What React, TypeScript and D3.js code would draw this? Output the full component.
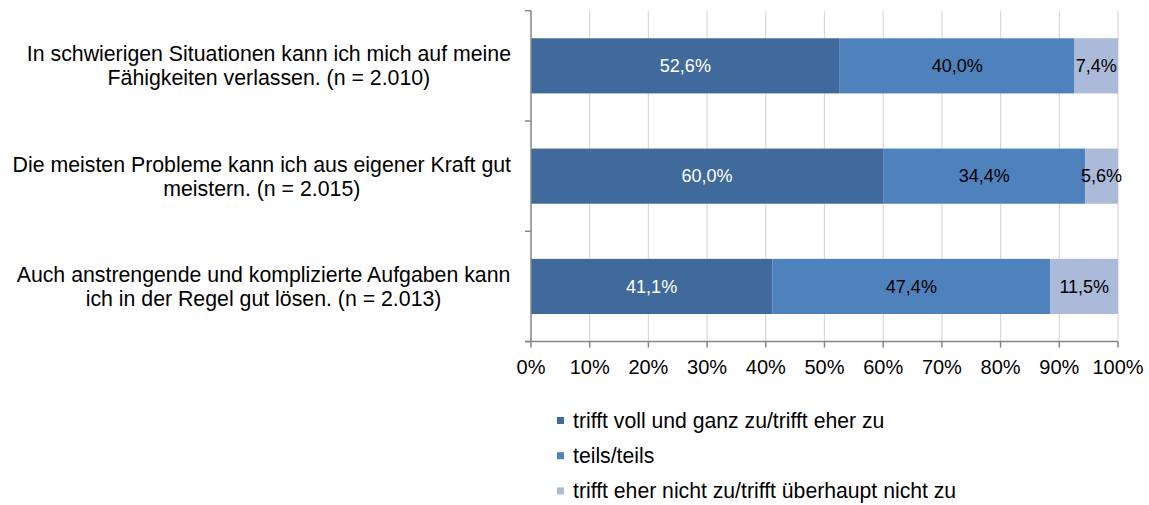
import React, { useMemo } from "react";
import * as d3 from "d3";

const categories: string[][] = [
  ["In schwierigen Situationen kann ich mich auf meine", "Fähigkeiten verlassen. (n = 2.010)"],
  ["Die meisten Probleme kann ich aus eigener Kraft gut", "meistern. (n = 2.015)"],
  ["Auch anstrengende und komplizierte Aufgaben kann", "ich in der Regel gut lösen. (n = 2.013)"],
];
const seriesNames = [
  "trifft voll und ganz zu/trifft eher zu",
  "teils/teils",
  "trifft eher nicht zu/trifft überhaupt nicht zu",
];
const agree = [52.6, 60.0, 41.1];
const partly = [40.0, 34.4, 47.4];
const disagree = [7.4, 5.6, 11.5];
const xTicks = [0, 10, 20, 30, 40, 50, 60, 70, 80, 90, 100];
const colors = ["#416A9C", "#4F81BD", "#AABAD8"];
const labelColors = ["#FFFFFF", "#000000", "#000000"];

const FONT = "'Liberation Sans', Arial, sans-serif";
const W = 1149;
const H = 505;

function measure(text: string, size: number): number {
  if (typeof document === "undefined") return text.length * size * 0.5;
  const c = document.createElement("canvas");
  const ctx = c.getContext("2d");
  if (!ctx) return text.length * size * 0.5;
  ctx.font = `${size}px ${FONT}`;
  return ctx.measureText(text).width;
}

export default function App() {
  const top = 10.7;
  const bottom = 341.6;
  const x = d3.scaleLinear().domain([0, 100]).range([531, 1118]);
  const y = d3
    .scaleBand<number>()
    .domain(categories.map((_, i) => i))
    .range([top, bottom])
    .paddingInner(0.5)
    .paddingOuter(0.25);
  const step = y.step();
  const series = [agree, partly, disagree];
  const stacked = categories.map((_, i) => {
    let acc = 0;
    return series.map((s, k) => {
      const start = acc;
      acc += s[i];
      return { k, start, end: acc, v: s[i] };
    });
  });
  const labelRight = 511;
  const catFont = 21.3;
  const centers = useMemo(
    () =>
      categories.map((lines) => {
        const mw = Math.max(...lines.map((l) => measure(l, catFont)));
        return labelRight - mw / 2;
      }),
    []
  );
  const fmt = (v: number) => v.toFixed(1).replace(".", ",") + "%";
  const boundaries = d3.range(categories.length + 1).map((i) => top + i * step);

  return (
    <svg width={W} height={H} style={{ display: "block", position: "absolute", left: 0, top: 0 }} fontFamily={FONT}>
      <rect width={W} height={H} fill="#fff" />
      {xTicks.slice(1).map((t) => (
        <line key={"g" + t} x1={x(t)} x2={x(t)} y1={top} y2={bottom} stroke="#D9D9D9" strokeWidth={1.2} />
      ))}
      {stacked.map((segs, i) =>
        segs.map((s) => (
          <rect
            key={i + "-" + s.k}
            x={x(s.start)}
            y={y(i)!}
            width={x(s.end) - x(s.start)}
            height={y.bandwidth()}
            fill={colors[s.k]}
          />
        ))
      )}
      {stacked.map((segs, i) =>
        segs.map((s) => (
          <text
            key={"l" + i + "-" + s.k}
            x={(x(s.start) + x(s.end)) / 2}
            y={y(i)! + y.bandwidth() / 2}
            dy="0.35em"
            textAnchor="middle"
            fontSize={18}
            fill={labelColors[s.k]}
          >
            {fmt(s.v)}
          </text>
        ))
      )}
      {/* axes */}
      <line x1={531} x2={531} y1={top} y2={bottom} stroke="#868686" strokeWidth={1.5} />
      {boundaries.map((b, i) => (
        <line key={"yt" + i} x1={525} x2={531} y1={b} y2={b} stroke="#868686" strokeWidth={1.5} />
      ))}
      <line x1={525} x2={1118} y1={bottom} y2={bottom} stroke="#868686" strokeWidth={1.5} />
      {xTicks.map((t) => (
        <line key={"xt" + t} x1={x(t)} x2={x(t)} y1={bottom} y2={bottom + 6} stroke="#868686" strokeWidth={1.5} />
      ))}
      {xTicks.map((t) => (
        <text key={"xl" + t} x={x(t)} y={374} textAnchor="middle" fontSize={20} fill="#000">
          {t + "%"}
        </text>
      ))}
      {categories.map((lines, i) => {
        const cy = y(i)! + y.bandwidth() / 2;
        const lh = 24;
        const t0 = cy - ((lines.length - 1) * lh) / 2;
        return (
          <text key={"c" + i} textAnchor="middle" fontSize={catFont} fill="#000">
            {lines.map((l, j) => (
              <tspan key={j} x={centers[i]} y={t0 + j * lh} dy="0.35em">
                {l}
              </tspan>
            ))}
          </text>
        );
      })}
      {seriesNames.map((n, k) => {
        const cy = 420.5 + k * 35.2;
        return (
          <g key={"lg" + k}>
            <rect x={557} y={cy - 3.5} width={7} height={7} fill={colors[k]} />
            <text x={573} y={cy} dy="0.35em" fontSize={21.2} fill="#000">
              {n}
            </text>
          </g>
        );
      })}
    </svg>
  );
}
